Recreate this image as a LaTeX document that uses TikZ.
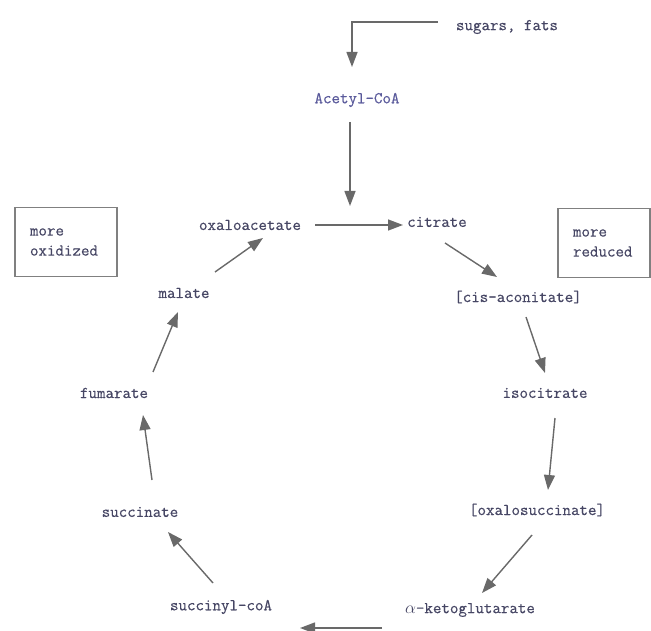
\documentclass[tikz,border=0pt]{standalone}
\usepackage{fontspec}
\newfontfamily\chemfont{Latin Modern Mono}[FakeBold=0.45]
\usetikzlibrary{arrows.meta, calc}

\definecolor{inkblue}{RGB}{70,70,100}
\definecolor{acetylblue}{RGB}{90,90,155}
\definecolor{arrowgray}{RGB}{105,105,105}

\begin{document}
\begin{tikzpicture}[
    x=1pt, y=-1pt,
    chem/.style={text=inkblue, font=\chemfont\fontsize{16.5}{18}\selectfont, inner sep=2pt},
    tag/.style={draw=arrowgray!85, line width=1.2pt, text=inkblue, font=\chemfont\fontsize{16.5}{20}\selectfont, align=left, inner xsep=15pt, minimum height=69pt},
    line/.style={draw=arrowgray, line width=1.4pt, -{Triangle[length=15pt,width=11pt]}}
]
    \useasboundingbox (0,0) rectangle (651,631);

    %% feed into the cycle
    \node [chem] (sugars) at (507,27) {sugars, fats};
    \node [chem, text=acetylblue] (acetyl) at (357,100) {Acetyl-CoA};
    \coordinate (entry) at (350,206);

    %% the cycle
    \node [chem] (oxalo) at (250,225) {oxaloacetate};
    \node [chem] (citrate) at (437,222) {citrate};
    \node [chem] (cisacon) at (518,297) {[cis-aconitate]};
    \node [chem] (isocit) at (545,393) {isocitrate};
    \node [chem] (oxalosucc) at (537,510) {[oxalosuccinate]};
    \node [chem] (akg) at (470,610) {$\alpha$-ketoglutarate};
    \node [chem] (succoa) at (221,607) {succinyl-coA};
    \node [chem] (succ) at (140,512) {succinate};
    \node [chem] (fum) at (114,393) {fumarate};
    \node [chem] (mal) at (184,293) {malate};

    %% side notes
    \node [tag, text width=72pt] (oxid) at (66,242) {more\\oxidized};
    \node [tag, text width=62pt] (redu) at (604,243) {more\\reduced};

    % bottom arrow runs along the lower edge
    \coordinate (kgout) at (382,628);
    \coordinate (scin) at (300,628);

    % Paths
    \draw [line] ($(sugars)+(-69,-5)$) -| ($(acetyl)+(-5,-33)$);
    \draw [line] ($(acetyl)+(-7,22)$) -- (entry);
    \path [line] ($(oxalo)+(65,0)$) -- ($(citrate)+(-34,3)$);
    \path [line] ($(citrate)+(8,21)$) -- ($(cisacon)+(-21,-20)$);
    \path [line] ($(cisacon)+(8,20)$) -- ($(isocit)+(0,-20)$);
    \path [line] ($(isocit)+(10,25)$) -- ($(oxalosucc)+(11,-20)$);
    \path [line] ($(oxalosucc)+(-5,25)$) -- ($(akg)+(12,-17)$);
    \path [line] (kgout) -- (scin);
    \path [line] ($(succoa)+(-8,-24)$) -- ($(succ)+(28,20)$);
    \path [line] ($(succ)+(12,-32)$) -- ($(fum)+(29,22)$);
    \path [line] ($(fum)+(39,-21)$) -- ($(mal)+(-6,19)$);
    \path [line] ($(mal)+(31,-21)$) -- ($(oxalo)+(13,13)$);
\end{tikzpicture}
\end{document}
